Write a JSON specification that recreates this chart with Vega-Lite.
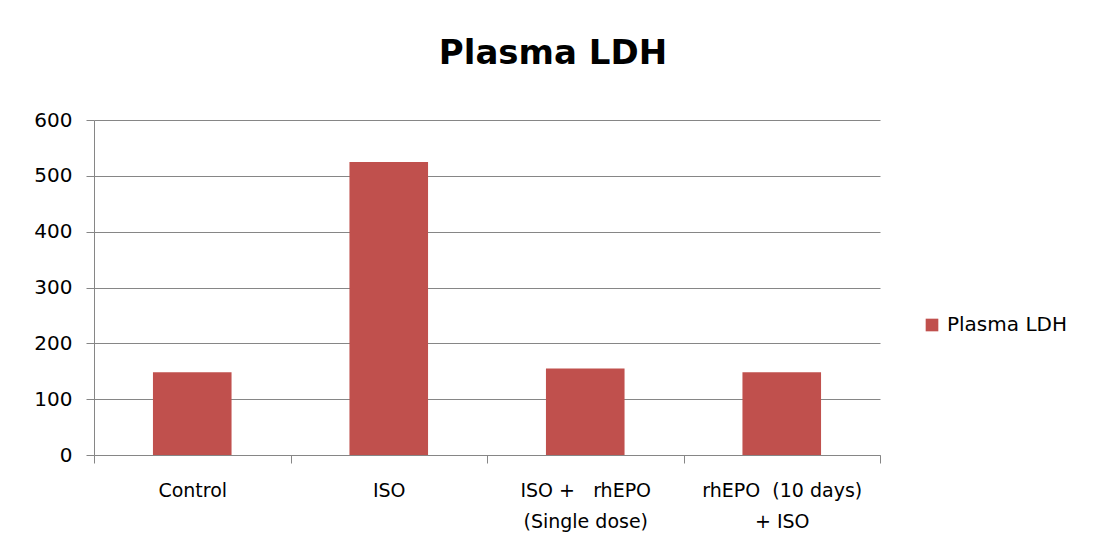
{
  "$schema": "https://vega.github.io/schema/vega-lite/v6.json",
  "autosize": "none",
  "width": 786,
  "height": 335,
  "padding": {"left": 94, "top": 120, "right": 213, "bottom": 95},
  "background": "white",
  "title": {
    "text": "Plasma LDH",
    "font": "DejaVu Sans",
    "fontSize": 34,
    "fontWeight": "bold",
    "color": "#000000",
    "anchor": "middle",
    "dx": 66,
    "offset": 39
  },
  "data": {
    "values": [
      {"group": "Control", "value": 148, "series": "Plasma LDH"},
      {"group": "ISO", "value": 525, "series": "Plasma LDH"},
      {"group": "ISO + rhEPO (Single dose)", "value": 155, "series": "Plasma LDH"},
      {"group": "rhEPO (10 days) + ISO", "value": 148, "series": "Plasma LDH"}
    ]
  },
  "mark": {"type": "bar", "width": {"band": 0.4}},
  "encoding": {
    "x": {
      "field": "group",
      "type": "nominal",
      "sort": null,
      "scale": {"paddingInner": 0, "paddingOuter": 0},
      "axis": {
        "title": null,
        "labelAngle": 0,
        "labelExpr": "datum.value == 'Control' ? 'Control' : datum.value == 'ISO' ? 'ISO' : datum.value == 'ISO + rhEPO (Single dose)' ? ['ISO +\u00a0\u00a0 rhEPO', '(Single dose)'] : datum.value == 'rhEPO (10 days) + ISO' ? ['rhEPO\u00a0 (10 days)', '+ ISO'] : ''",
        "labelFont": "DejaVu Sans",
        "labelFontSize": 19,
        "labelColor": "#000000",
        "labelPadding": 18,
        "labelLineHeight": 31,
        "tickBand": "extent",
        "tickSize": 8,
        "tickColor": "#868686",
        "domainColor": "#868686",
        "grid": false
      }
    },
    "y": {
      "field": "value",
      "type": "quantitative",
      "scale": {"domain": [0, 600]},
      "axis": {
        "title": null,
        "values": [0, 100, 200, 300, 400, 500, 600],
        "labelFont": "DejaVu Sans",
        "labelFontSize": 20,
        "labelColor": "#000000",
        "labelPadding": 14,
        "tickSize": 8,
        "tickColor": "#868686",
        "domainColor": "#868686",
        "gridColor": "#868686",
        "grid": true
      }
    },
    "color": {
      "field": "series",
      "type": "nominal",
      "scale": {"range": ["#C0504D"]},
      "legend": {
        "title": null,
        "orient": "none",
        "legendX": 828,
        "legendY": 195,
        "symbolType": "square",
        "symbolSize": 160,
        "symbolStrokeWidth": 0,
        "labelFont": "DejaVu Sans",
        "labelFontSize": 20,
        "labelColor": "#000000",
        "labelOffset": 5
      }
    }
  },
  "config": {
    "view": {"stroke": null},
    "bar": {"stroke": null}
  }
}
